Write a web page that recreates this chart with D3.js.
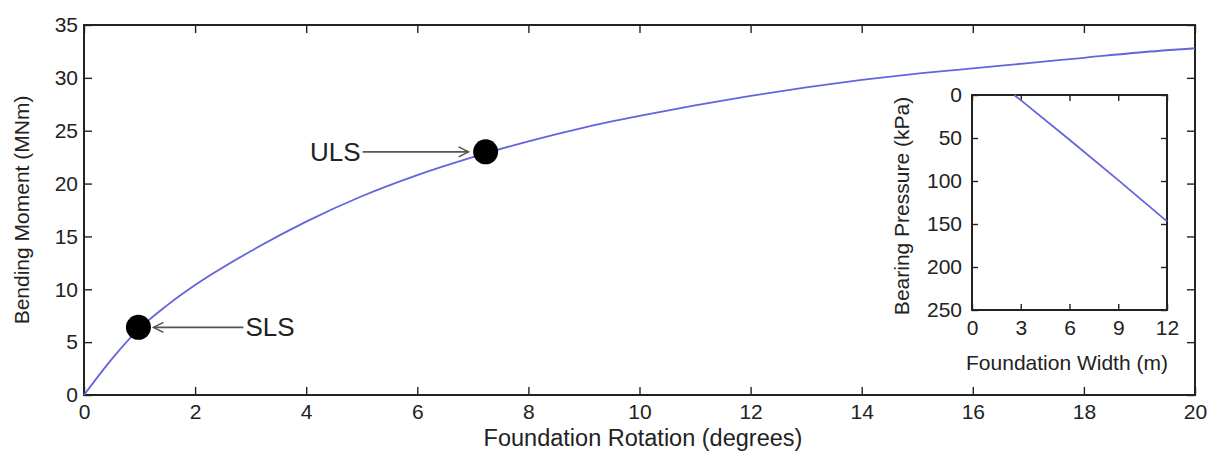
<!DOCTYPE html>
<html>
<head>
<meta charset="utf-8">
<script src="https://cdn.jsdelivr.net/npm/d3@7"></script>
<style>
  body { margin: 0; background: #fff; }
  text { font-family: Arial, "Liberation Sans", sans-serif; fill: #222; }
</style>
</head>
<body>
<div id="chart"></div>
<script>
// Main curve: bending moment vs foundation rotation
const rotation = [0, 0.5, 1, 1.5, 2, 3, 4, 5, 6, 7, 8, 9, 10, 11, 12, 13, 14, 15, 16, 17, 18, 19, 20];
const moment = [0, 3.4, 6.3, 8.5, 10.4, 13.6, 16.4, 18.8, 20.8, 22.5, 24.0, 25.3, 26.4, 27.4, 28.3, 29.1, 29.8, 30.4, 30.9, 31.4, 31.9, 32.4, 32.8];

// Limit state markers
const limitStates = ['SLS', 'ULS'];
const limitRotation = [0.98, 7.23];
const limitMoment = [6.4, 23.0];

// Inset: bearing pressure vs foundation width
const foundWidth = [2.6, 3, 6, 9, 12];
const pressure = [0, 6, 52, 99, 147];

const xTicks = [0, 2, 4, 6, 8, 10, 12, 14, 16, 18, 20];
const yTicks = [0, 5, 10, 15, 20, 25, 30, 35];
const insetXTicks = [0, 3, 6, 9, 12];
const insetYTicks = [0, 50, 100, 150, 200, 250];

const W = 1208, H = 452;
const lineColor = '#6464dc';

const svg = d3.select('#chart').append('svg')
  .attr('width', W).attr('height', H);

// draws a boxed frame with inward ticks on all four sides, labels bottom/left
function drawFrame(g, xs, ys, xt, yt, opt) {
  const [x0, x1] = xs.range();
  const yr = ys.range();
  const yBot = Math.max(yr[0], yr[1]);
  const yTop = Math.min(yr[0], yr[1]);
  const tick = opt.tick;
  g.append('g').attr('transform', `translate(0,${yBot})`)
    .call(d3.axisBottom(xs).tickValues(xt).tickSizeInner(-tick).tickSizeOuter(0).tickPadding(opt.xPad))
    .call((a) => a.select('.domain').remove());
  g.append('g').attr('transform', `translate(0,${yTop})`)
    .call(d3.axisTop(xs).tickValues(xt).tickSizeInner(-tick).tickSizeOuter(0).tickFormat(''))
    .call((a) => a.select('.domain').remove());
  g.append('g').attr('transform', `translate(${x0},0)`)
    .call(d3.axisLeft(ys).tickValues(yt).tickSizeInner(-tick).tickSizeOuter(0).tickPadding(opt.yPad))
    .call((a) => a.select('.domain').remove());
  g.append('g').attr('transform', `translate(${x1},0)`)
    .call(d3.axisRight(ys).tickValues(yt).tickSizeInner(-tick).tickSizeOuter(0).tickFormat(''))
    .call((a) => a.select('.domain').remove());

  g.selectAll('.tick line').attr('stroke', '#222').attr('stroke-width', 1.4);
  g.selectAll('.tick text')
    .attr('font-size', opt.fontSize)
    .attr('font-family', 'Arial, "Liberation Sans", sans-serif')
    .attr('fill', '#222');

  g.append('rect')
    .attr('x', x0).attr('y', yTop)
    .attr('width', x1 - x0).attr('height', yBot - yTop)
    .attr('fill', 'none').attr('stroke', '#222').attr('stroke-width', 2);
}

// main plot
const x = d3.scaleLinear().domain([0, 20]).range([84, 1195]);
const y = d3.scaleLinear().domain([0, 35]).range([395, 25]);
const main = svg.append('g');
drawFrame(main, x, y, xTicks, yTicks, { tick: 8, xPad: 9, yPad: 6, fontSize: 21 });

const line = d3.line()
  .x((d) => x(d[0]))
  .y((d) => y(d[1]))
  .curve(d3.curveMonotoneX);

main.append('path')
  .datum(d3.zip(rotation, moment))
  .attr('d', line)
  .attr('fill', 'none')
  .attr('stroke', lineColor)
  .attr('stroke-width', 1.8);

// arrow marker
svg.append('defs').append('marker')
  .attr('id', 'arrow')
  .attr('viewBox', '0 -6 12 12')
  .attr('refX', 11).attr('refY', 0)
  .attr('markerWidth', 12).attr('markerHeight', 12)
  .attr('markerUnits', 'userSpaceOnUse')
  .attr('orient', 'auto')
  .append('path')
  .attr('d', 'M1,-5L11,0L1,5')
  .attr('fill', 'none')
  .attr('stroke', '#555')
  .attr('stroke-width', 1.6);

// annotation layout: label on right for SLS, left for ULS
const annot = { SLS: { side: 1, tail: 105, tip: 15 }, ULS: { side: -1, tail: 123, tip: 17 } };

limitStates.forEach((name, i) => {
  const cx = x(limitRotation[i]);
  const cy = y(limitMoment[i]);
  const a = annot[name];
  main.append('line')
    .attr('x1', cx + a.side * a.tail).attr('y1', cy)
    .attr('x2', cx + a.side * a.tip).attr('y2', cy)
    .attr('stroke', '#555').attr('stroke-width', 1.6)
    .attr('marker-end', 'url(#arrow)');
  main.append('circle')
    .attr('cx', cx).attr('cy', cy).attr('r', 12.5)
    .attr('fill', '#000');
  main.append('text')
    .attr('x', cx + a.side * (a.tail + 2))
    .attr('y', cy + 9)
    .attr('text-anchor', a.side > 0 ? 'start' : 'end')
    .attr('font-size', 26)
    .text(name);
});

// axis titles
main.append('text')
  .attr('x', 643)
  .attr('y', 446)
  .attr('text-anchor', 'middle')
  .attr('font-size', 23.5)
  .text('Foundation Rotation (degrees)');
main.append('text')
  .attr('transform', 'translate(29, 210) rotate(-90)')
  .attr('text-anchor', 'middle')
  .attr('font-size', 21)
  .text('Bending Moment (MNm)');

// inset
const ix = d3.scaleLinear().domain([0, 12]).range([972, 1167]);
const iy = d3.scaleLinear().domain([0, 250]).range([95, 310]);
const inset = svg.append('g');
drawFrame(inset, ix, iy, insetXTicks, insetYTicks, { tick: 6, xPad: 10, yPad: 10, fontSize: 21 });

inset.append('path')
  .datum(d3.zip(foundWidth, pressure))
  .attr('d', d3.line().x((d) => ix(d[0])).y((d) => iy(d[1])))
  .attr('fill', 'none')
  .attr('stroke', lineColor)
  .attr('stroke-width', 1.8);

inset.append('text')
  .attr('x', 1067)
  .attr('y', 370)
  .attr('text-anchor', 'middle')
  .attr('font-size', 21)
  .text('Foundation Width (m)');
inset.append('text')
  .attr('transform', 'translate(909, 206) rotate(-90)')
  .attr('text-anchor', 'middle')
  .attr('font-size', 21)
  .text('Bearing Pressure (kPa)');
</script>
</body>
</html>
